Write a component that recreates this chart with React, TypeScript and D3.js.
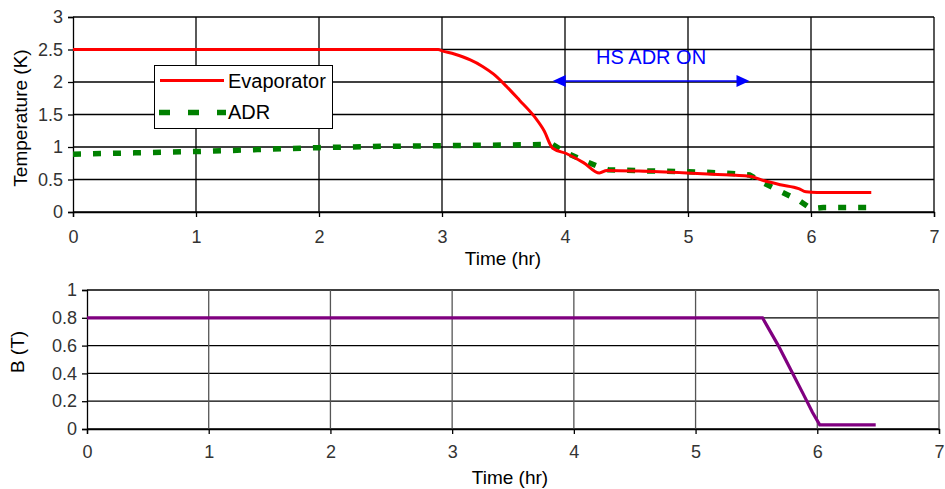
import React, { useEffect, useRef } from 'react';
import * as d3 from 'd3';

// temperature chart (top)
const evapTime = [0, 1, 2, 2.97, 3.0, 3.1, 3.23, 3.33, 3.42, 3.52, 3.63, 3.75, 3.83, 3.9, 4.01, 4.15, 4.28, 4.34, 4.6, 4.99, 5.2, 5.5, 5.62, 5.75, 5.9, 5.96, 6.05, 6.49];
const evapTemp = [2.5, 2.5, 2.5, 2.5, 2.48, 2.43, 2.34, 2.24, 2.12, 1.94, 1.72, 1.47, 1.25, 0.98, 0.9, 0.76, 0.6, 0.64, 0.63, 0.6, 0.58, 0.55, 0.48, 0.42, 0.36, 0.31, 0.3, 0.3];
const adrTime = [0, 0.5, 1, 1.5, 2, 2.5, 3, 3.5, 3.9, 4.0, 4.14, 4.27, 4.35, 4.7, 5.0, 5.3, 5.5, 5.61, 5.76, 5.9, 6.0, 6.1, 6.45];
const adrTemp = [0.89, 0.91, 0.93, 0.96, 0.99, 1.01, 1.02, 1.03, 1.04, 0.92, 0.8, 0.7, 0.65, 0.63, 0.62, 0.6, 0.57, 0.45, 0.31, 0.18, 0.05, 0.07, 0.07];

// field chart (bottom)
const fieldTime = [0, 1, 2, 3, 4, 5, 5.55, 5.68, 5.78, 5.88, 5.96, 6.02, 6.48];
const fieldB = [0.8, 0.8, 0.8, 0.8, 0.8, 0.8, 0.8, 0.6, 0.43, 0.26, 0.12, 0.03, 0.03];

const timeTicks = [0, 1, 2, 3, 4, 5, 6, 7];
const tempTicks = [0, 0.5, 1, 1.5, 2, 2.5, 3];
const fieldTicks = [0, 0.2, 0.4, 0.6, 0.8, 1];

const legendLabels = ['Evaporator', 'ADR'];
const annotation = 'HS ADR ON';
const annotationRange = [3.9, 5.5];

const App = () => {
    const svgRef = useRef(null);

    useEffect(() => {
        const svg = d3.select(svgRef.current);
        svg.selectAll('*').remove();
        const font = 'Liberation Sans, Arial, sans-serif';

        const drawPanel = (opts) => {
            const { x, y, yTicks, yFmt, vGrid, title, xTitleX, xTitleY, yTitleX, yTitleY, labelY } = opts;
            const g = svg.append('g');

            // horizontal grid
            g.selectAll('.hg').data(yTicks).enter().append('line')
                .attr('x1', x(0)).attr('x2', x(7))
                .attr('y1', (d) => y(d)).attr('y2', (d) => y(d))
                .attr('stroke', '#000').attr('stroke-width', 1.3);
            // vertical grid
            g.selectAll('.vg').data(timeTicks.slice(1)).enter().append('line')
                .attr('x1', (d) => x(d)).attr('x2', (d) => x(d))
                .attr('y1', y.range()[1]).attr('y2', y.range()[0])
                .attr('stroke', vGrid).attr('stroke-width', 1.3);

            // axes
            const yAxis = d3.axisLeft(y).tickValues(yTicks).tickSize(5).tickPadding(5).tickFormat(yFmt);
            const ya = g.append('g').attr('transform', `translate(${x(0)},0)`).call(yAxis);
            const xAxis = d3.axisBottom(x).tickValues(timeTicks).tickSize(5).tickPadding(14).tickFormat(d3.format('d'));
            const xa = g.append('g').attr('transform', `translate(0,${y(0)})`).call(xAxis);
            [ya, xa].forEach((a) => {
                a.select('.domain').attr('stroke', '#000').attr('stroke-width', 1.3);
                a.selectAll('.tick line').attr('stroke', '#000').attr('stroke-width', 1.3);
                a.selectAll('.tick text').attr('font-family', font).attr('font-size', 18).attr('fill', '#333');
            });
            xa.selectAll('.tick text').attr('dy', null).attr('y', labelY);

            g.append('text').attr('x', xTitleX).attr('y', xTitleY)
                .attr('text-anchor', 'middle').attr('font-family', font).attr('font-size', 19)
                .text('Time (hr)');
            g.append('text')
                .attr('transform', `translate(${yTitleX},${yTitleY}) rotate(-90)`)
                .attr('text-anchor', 'middle').attr('dy', '0.35em')
                .attr('font-family', font).attr('font-size', 19)
                .text(title);
            return g;
        };

        // ---- top chart ----
        const x1 = d3.scaleLinear().domain([0, 7]).range([73, 934]);
        const y1 = d3.scaleLinear().domain([0, 3]).range([212, 17]);
        const top = drawPanel({
            x: x1, y: y1, yTicks: tempTicks, yFmt: d3.format('~g'), vGrid: '#000',
            title: 'Temperature (K)', xTitleX: 503, xTitleY: 265, yTitleX: 20, yTitleY: 118, labelY: 31,
        });

        const line1 = d3.line().x((d) => x1(d[0])).y((d) => y1(d[1]));
        top.append('path')
            .datum(adrTime.map((t, i) => [t, adrTemp[i]]))
            .attr('d', line1).attr('fill', 'none')
            .attr('stroke', '#008000').attr('stroke-width', 5.5).attr('stroke-dasharray', '8,12');
        top.append('path')
            .datum(evapTime.map((t, i) => [t, evapTemp[i]]))
            .attr('d', line1.curve(d3.curveMonotoneX)).attr('fill', 'none')
            .attr('stroke', '#ff0000').attr('stroke-width', 3);

        // legend
        const lg = top.append('g');
        lg.append('rect').attr('x', 154.5).attr('y', 65.5).attr('width', 178).attr('height', 63)
            .attr('fill', '#fff').attr('stroke', '#000').attr('stroke-width', 1);
        lg.append('line').attr('x1', 160).attr('x2', 224).attr('y1', 80.5).attr('y2', 80.5)
            .attr('stroke', '#ff0000').attr('stroke-width', 3);
        lg.append('line').attr('x1', 159).attr('x2', 226).attr('y1', 112.5).attr('y2', 112.5)
            .attr('stroke', '#008000').attr('stroke-width', 5.5).attr('stroke-dasharray', '11,18');
        lg.selectAll('.lt').data(legendLabels).enter().append('text')
            .attr('x', 228).attr('y', (d, i) => 88 + i * 31)
            .attr('font-family', font).attr('font-size', 20).attr('fill', '#000')
            .text((d) => d);

        // annotation
        const ay = 81;
        const ax0 = x1(annotationRange[0]);
        const ax1 = x1(annotationRange[1]);
        top.append('line').attr('x1', ax0 + 10).attr('x2', ax1 - 10).attr('y1', ay).attr('y2', ay)
            .attr('stroke', '#0000ff').attr('stroke-width', 1.5);
        top.append('path').attr('d', `M${ax0},${ay}L${ax0 + 13},${ay - 6}L${ax0 + 13},${ay + 6}Z`).attr('fill', '#0000ff');
        top.append('path').attr('d', `M${ax1},${ay}L${ax1 - 13},${ay - 6}L${ax1 - 13},${ay + 6}Z`).attr('fill', '#0000ff');
        top.append('text').attr('x', (ax0 + ax1) / 2).attr('y', 64)
            .attr('text-anchor', 'middle').attr('font-family', font).attr('font-size', 20)
            .attr('fill', '#0000ff').text(annotation);

        // ---- bottom chart ----
        const x2 = d3.scaleLinear().domain([0, 7]).range([87, 939]);
        const y2 = d3.scaleLinear().domain([0, 1]).range([429, 290]);
        const bottom = drawPanel({
            x: x2, y: y2, yTicks: fieldTicks, yFmt: d3.format('~g'), vGrid: '#555',
            title: 'B (T)', xTitleX: 510, xTitleY: 484, yTitleX: 17, yTitleY: 352, labelY: 29,
        });
        const line2 = d3.line().x((d) => x2(d[0])).y((d) => y2(d[1]));
        bottom.append('path')
            .datum(fieldTime.map((t, i) => [t, fieldB[i]]))
            .attr('d', line2).attr('fill', 'none')
            .attr('stroke', '#800080').attr('stroke-width', 3.2);
    }, []);

    return (
        <div style={{ position: 'absolute', left: 0, top: 0, width: 945, height: 489, background: '#fff' }}>
            <svg ref={svgRef} width={945} height={489}></svg>
        </div>
    );
};

export default App;
